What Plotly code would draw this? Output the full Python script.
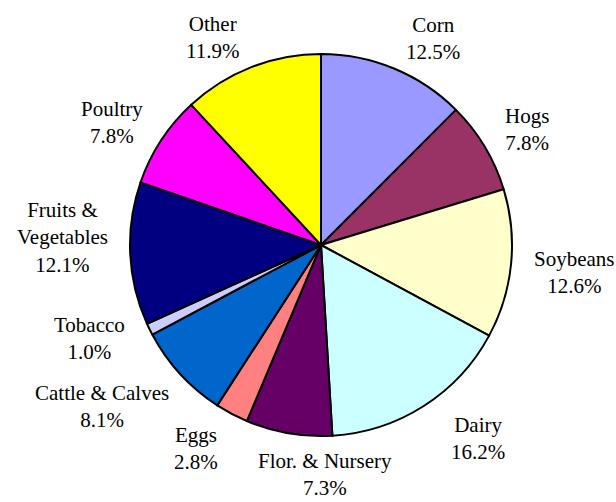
import math

import plotly.graph_objects as go

labels = ["Corn", "Hogs", "Soybeans", "Dairy", "Flor. & Nursery", "Eggs",
          "Cattle & Calves", "Tobacco", "Fruits &<br>Vegetables", "Poultry", "Other"]
shares = [12.5, 7.8, 12.6, 16.2, 7.3, 2.8, 8.1, 1.0, 12.1, 7.8, 11.9]
colors = ["#9999FF", "#993366", "#FFFFCC", "#CCFFFF", "#660066", "#FF8080",
          "#0066CC", "#CCCCFF", "#000080", "#FF00FF", "#FFFF00"]

W, H = 616, 502
CX, CY, R = 321, 245, 191   # pie centre and radius in px
FS = 21
FONT = dict(family="Liberation Serif", size=FS, color="black")
GAP = 18
LINE_H = 24
# Excel shuffled a few labels to clear their neighbours
NUDGE = {
    "Soybeans": (0, 5),
    "Dairy": (12, -3),
    "Flor. & Nursery": (83, 0),
    "Eggs": (0, -2),
    "Cattle & Calves": (15, 4),
    "Tobacco": (-4, -9),
    "Fruits &<br>Vegetables": (5, -19),
    "Poultry": (6, 0),
}


def _text_width(line: str) -> float:
    """Rough Times widths, good enough to offset a label box from the rim."""
    w = 0.0
    for ch in line:
        if ch.isupper():
            w += 0.67
        elif ch.isdigit():
            w += 0.5
        elif ch in ".,' ":
            w += 0.25
        elif ch == "%":
            w += 0.83
        elif ch == "&":
            w += 0.78
        else:
            w += 0.45
    return w * FS


fig = go.Figure(go.Pie(
    labels=labels, values=shares, sort=False, direction="clockwise", rotation=0,
    marker=dict(colors=colors, line=dict(color="black", width=2)),
    textinfo="none", hoverinfo="label+percent",
    domain=dict(x=[(CX - R) / W, (CX + R) / W], y=[1 - (CY + R) / H, 1 - (CY - R) / H]),
))

total = sum(shares)
cum = 0.0
for lab, v in zip(labels, shares):
    mid = (cum + v / 2) / total * 2 * math.pi
    cum += v
    s, c = math.sin(mid), math.cos(mid)
    lines = lab.split("<br>") + [f"{v:.1f}%"]
    w = max(_text_width(ln) for ln in lines)
    h = LINE_H * len(lines)
    ax, ay = CX + (R + GAP) * s, CY - (R + GAP) * c
    dx = (w / 2 + 5) * max(-1.0, min(1.0, s / 0.3))
    dy = -h / 2 * c * (0.6 if c > 0 else 1.0)
    nx, ny = NUDGE.get(lab, (0, 0))
    fig.add_annotation(
        x=ax / W, y=1 - ay / H, xref="paper", yref="paper",
        text="<br>".join(lines), showarrow=False, align="center",
        xanchor="center", yanchor="middle",
        xshift=dx + nx, yshift=-(dy + ny), font=FONT,
    )

fig.update_layout(
    width=W, height=H, margin=dict(l=0, r=0, t=0, b=0),
    paper_bgcolor="white", plot_bgcolor="white", showlegend=False,
)
fig.write_html("out.html", config=dict(displayModeBar=False),
               post_script="document.body.style.margin = '0';")
